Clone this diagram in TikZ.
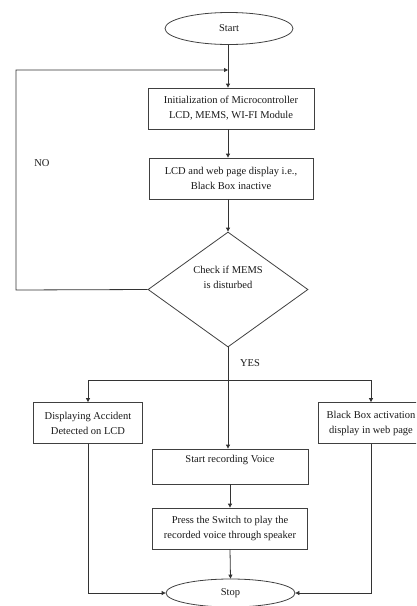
\documentclass[tikz,border=0pt]{standalone}
\usepackage{fontspec}
\setmainfont{Liberation Serif}
\usetikzlibrary{shapes.geometric,arrows.meta}
\begin{document}
\begin{tikzpicture}[x=1pt,y=-1pt,
  every node/.style={font=\fontsize{10.5}{15}\selectfont, text=black!90},
  box/.style={draw=black!75, line width=0.8pt, rectangle, align=center, inner sep=2pt},
  term/.style={draw=black!75, line width=0.8pt, ellipse, inner sep=0pt},
  dec/.style={draw=black!75, line width=0.8pt, diamond, inner sep=0pt},
  conn/.style={draw=black!80, line width=0.8pt, -{Triangle[length=4pt,width=4pt]}},
  plain/.style={draw=black!80, line width=0.8pt}]
\clip (0,0) rectangle (416,606);
\useasboundingbox (0,0) rectangle (416,606);
\node[term, minimum width=128, minimum height=32] (start) at (229,28.5) {Start};
\node[box, minimum width=166, minimum height=41] (init) at (231,108.5) {Initialization of Microcontroller\\LCD, MEMS, WI-FI Module};
\node[box, minimum width=164, minimum height=41] (lcd) at (231,178.5) {LCD and web page display i.e.,\\Black Box inactive};
\node[dec, minimum width=160, minimum height=115,
  label={[align=center, yshift=12pt, font=\fontsize{10.5}{15}\selectfont, text=black!90]center:Check if MEMS\\is disturbed}] (chk) at (228,289.5) {};
\node[box, minimum width=109, minimum height=41] (left) at (88,423) {Displaying Accident\\Detected on LCD};
\node[box, minimum width=106, minimum height=41] (right) at (371,423) {Black Box activation\\display in web page};
\node[box, minimum width=156, minimum height=35] (rec) at (230,466.5) {Start recording Voice\\\mbox{}};
\node[box, minimum width=155, minimum height=41] (press) at (230,528.5) {Press the Switch to play the\\recorded voice through speaker};
\node[term, minimum width=129, minimum height=28] (stop) at (230.5,593) {Stop};
\node (no) at (42,163) {NO};
\node (yes) at (250,363) {YES};
\coordinate (j1) at (228,70);
\coordinate (nl) at (16,290);
\coordinate (nt) at (16,70);
\coordinate (b) at (228,380);
\coordinate (bl) at (88,380);
\coordinate (br) at (371,380);
\coordinate (ll) at (88,593);
\coordinate (rl) at (371,593);
\draw[conn] (start.south -| j1) -- (init.north -| j1);
\draw[conn] (init.south -| j1) -- (lcd.north -| j1);
\draw[conn] (lcd.south -| j1) -- (chk.north);
\draw[conn] (chk.west) -- (nl) -- (nt) -- (j1);
\draw[conn] (chk.south) -- (rec.north -| chk.south);
\draw[plain] (bl) -- (br);
\draw[conn] (bl) -- (left.north);
\draw[conn] (br) -- (right.north);
\draw[conn] (rec.south) -- (press.north);
\draw[conn] (press.south) -- (stop.north);
\draw[conn] (left.south) -- (ll) -- (stop.west);
\draw[conn] (right.south) -- (rl) -- (stop.east);
\end{tikzpicture}
\end{document}
